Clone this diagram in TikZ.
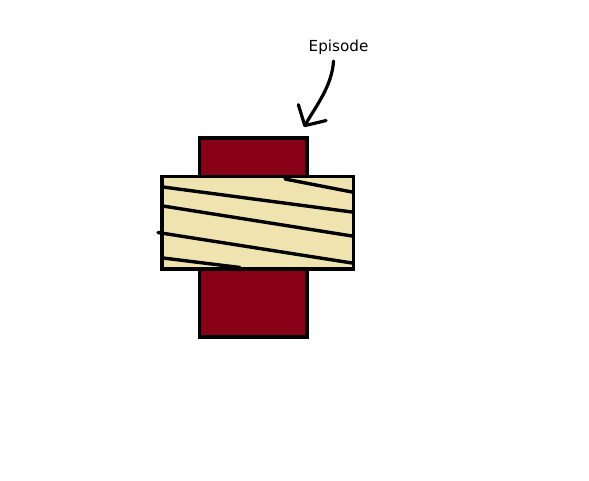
\documentclass[tikz,border=0pt]{standalone}
\usepackage{fontspec}
\usepackage{tikz}
\usetikzlibrary{arrows.meta}
\newfontfamily\labelfont{DejaVu Sans}
\definecolor{coreRed}{RGB}{136,0,21}
\definecolor{bandTan}{RGB}{239,228,176}

\begin{document}
\begin{tikzpicture}[
  x=1pt, y=-1pt,
  block/.style={
    rectangle, draw=black, line width=3.8pt,
    inner sep=0pt, outer sep=0pt
  },
  stripe/.style={line width=3.4pt, line cap=round},
  pointer/.style={
    line width=3.2pt, line cap=round,
    -{Straight Barb[length=15pt, width=32pt, round]}
  }
]
  \useasboundingbox (0,0) rectangle (589,480);
  \node[block, fill=coreRed, minimum width=107.5pt, minimum height=199pt]
    (core) at (253.25,237.5){};
  \node[block, fill=bandTan, minimum width=191.5pt, minimum height=92.2pt]
    (band) at (257.75,222.6){};
  \foreach \xa/\ya/\xb/\yb in {285/179/352/192, 163/187/352/212,
    163/206/352/236, 158/232.5/352/263, 163/258/240/267.5} {
    \draw[stripe] (\xa,\ya)--(\xb,\yb);
  }
  \node[font=\labelfont\fontsize{15.2}{18}\selectfont, inner sep=0pt]
    (lbl) at (338.5,47.5){Episode};
  \coordinate (tip) at (304,127);
  \draw[pointer] ([shift={(-5,6)}]lbl.south) .. controls (332,86) and (316,106) .. (tip);
\end{tikzpicture}
\end{document}
